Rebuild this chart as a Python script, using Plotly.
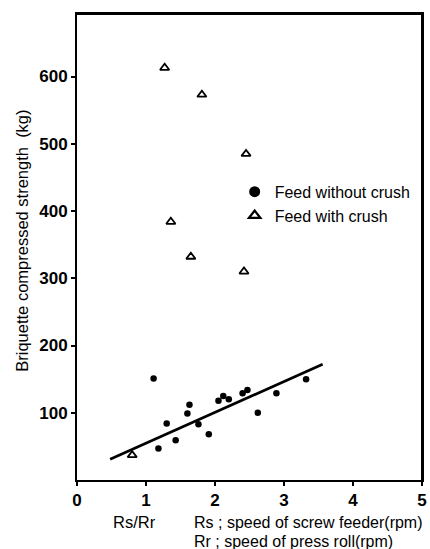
import plotly.graph_objects as go

# Feed without crush (filled circles)
no_crush_x = [1.11, 1.18, 1.30, 1.43, 1.60, 1.63, 1.76, 1.91, 2.05, 2.12, 2.20, 2.40, 2.47, 2.62, 2.89, 3.32]
no_crush_y = [151, 47, 84, 59, 99, 112, 83, 68, 118, 125, 120, 129, 134, 100, 129, 150]

# Feed with crush (open triangles)
crush_x = [0.80, 1.27, 1.36, 1.65, 1.81, 2.42, 2.45]
crush_y = [37, 613, 384, 332, 573, 310, 485]

# Regression line end points
fit_x = [0.48, 3.56]
fit_y = [31, 172]

x_ticks = [0, 1, 2, 3, 4, 5]
y_ticks = [100, 200, 300, 400, 500, 600]

fig = go.Figure()
fig.add_trace(go.Scatter(x=fit_x, y=fit_y, mode="lines",
                         line=dict(color="black", width=2.7), showlegend=False))
fig.add_trace(go.Scatter(x=no_crush_x, y=no_crush_y, mode="markers",
                         marker=dict(symbol="circle", size=6.5, color="black"),
                         showlegend=False))
fig.add_trace(go.Scatter(x=crush_x, y=crush_y, mode="markers",
                         marker=dict(symbol="triangle-up-open", size=8, color="black",
                                     line=dict(width=1.8, color="black")),
                         showlegend=False))
# legend entries
fig.add_trace(go.Scatter(x=[None], y=[None], mode="markers", name="Feed without crush",
                         marker=dict(symbol="circle", size=11, color="black")))
fig.add_trace(go.Scatter(x=[None], y=[None], mode="markers", name="Feed with crush",
                         marker=dict(symbol="triangle-up-open", size=10, color="black",
                                     line=dict(width=2.2, color="black"))))

axis_common = dict(showgrid=False, zeroline=False, showline=True, linecolor="black",
                   linewidth=2, mirror=True, ticks="outside", ticklen=4, tickwidth=2,
                   tickcolor="black",
                   tickfont=dict(family="Liberation Sans", size=17, color="black", weight="bold"))

fig.update_xaxes(range=[0, 5], tickvals=x_ticks, ticktext=[str(v) for v in x_ticks], **axis_common)
fig.update_yaxes(range=[0, 693], tickvals=y_ticks, ticktext=[str(v) for v in y_ticks], **axis_common)

# frame (top and right borders)
fig.add_shape(type="line", xref="paper", yref="paper", x0=1, x1=1, y0=0, y1=1,
              line=dict(color="black", width=2))
fig.add_shape(type="line", xref="paper", yref="paper", x0=0, x1=1, y0=1, y1=1,
              line=dict(color="black", width=2))

fig.add_annotation(text="Briquette compressed strength  (kg)", textangle=-90,
                   xref="paper", yref="paper", x=-0.16, y=0.513, xanchor="center", yanchor="middle",
                   showarrow=False, font=dict(family="Liberation Sans", size=16.5, color="black"))
fig.add_annotation(text="Rs/Rr", xref="paper", yref="paper", x=0.168, y=-0.0905,
                   xanchor="center", yanchor="middle", showarrow=False,
                   font=dict(family="Liberation Sans", size=16.5, color="black"))
fig.add_annotation(text="Rs ; speed of screw feeder(rpm)", xref="paper", yref="paper",
                   x=0.333, y=-0.0905, xanchor="left", yanchor="middle", showarrow=False,
                   font=dict(family="Liberation Sans", size=16, color="black"))
fig.add_annotation(text="Rr ; speed of press roll(rpm)", xref="paper", yref="paper",
                   x=0.333, y=-0.133, xanchor="left", yanchor="middle", showarrow=False,
                   font=dict(family="Liberation Sans", size=16, color="black"))

fig.update_layout(
    width=430, height=549,
    margin=dict(l=77, r=8, t=14, b=69, autoexpand=False),
    paper_bgcolor="white", plot_bgcolor="white",
    legend=dict(x=0.457, y=0.655, xanchor="left", yanchor="top",
                font=dict(family="Liberation Sans", size=16, color="black"),
                bgcolor="rgba(0,0,0,0)", tracegroupgap=0),
)

fig.write_html("out.html", config={"displayModeBar": False},
               post_script="document.body.style.margin='0';document.body.style.overflow='hidden';")
